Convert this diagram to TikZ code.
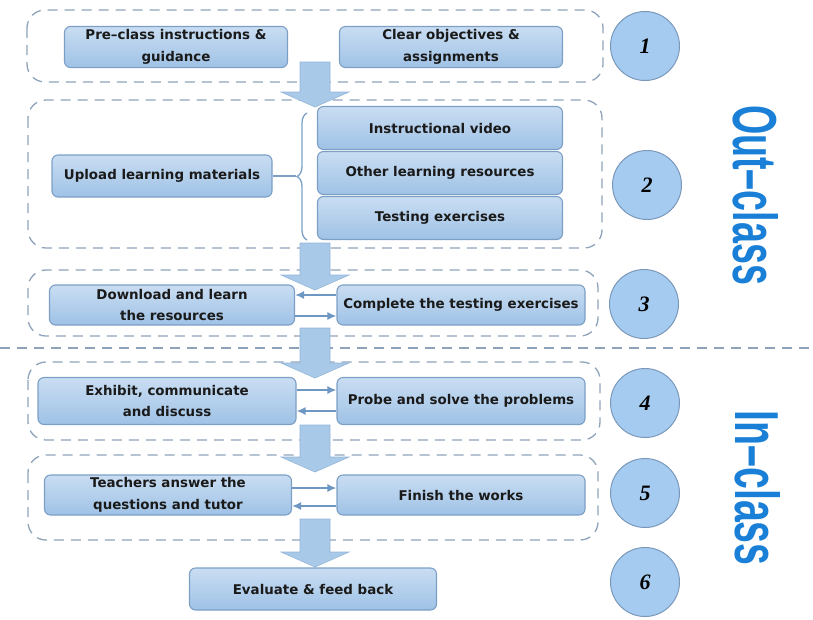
\documentclass[tikz,border=0pt]{standalone}
\usepackage{fontspec}
\setmainfont{DejaVu Sans}
\newfontfamily\numfont{Liberation Serif}
\newfontfamily\sidefont{Liberation Sans}
\usetikzlibrary{decorations.pathreplacing,arrows.meta}
\definecolor{boxborder}{HTML}{7C9FC6}
\definecolor{boxtop}{HTML}{C9DDF2}
\definecolor{boxbot}{HTML}{9FC2E6}
\definecolor{grpline}{HTML}{8EA3BA}
\definecolor{circfill}{HTML}{A6CBF0}
\definecolor{circborder}{HTML}{7A98BA}
\definecolor{bigarrow}{HTML}{A9C9E8}
\definecolor{bigarrowline}{HTML}{93B5D9}
\definecolor{smallarr}{HTML}{6F97C4}
\definecolor{sidetext}{HTML}{1A7FD6}
\definecolor{boxtext}{HTML}{1A1A1A}
\begin{document}
\begin{tikzpicture}[x=1pt,y=-1pt,
  stepbox/.style={draw=boxborder, line width=1.1pt, rounded corners=6pt,
    top color=boxtop, bottom color=boxbot, text=boxtext,
    font=\bfseries\fontsize{13.4}{21.5}\selectfont,
    align=center, inner sep=0pt},
  grpbox/.style={draw=grpline, line width=1.3pt, rounded corners=18pt,
    dash pattern=on 10pt off 7pt},
  numcirc/.style={circle, draw=circborder, fill=circfill, line width=1pt,
    minimum size=69pt, inner sep=0pt,
    font=\numfont\bfseries\itshape\fontsize{22}{22}\selectfont},
  smallarrow/.style={draw=smallarr, line width=1.5pt, -{Latex[length=9pt,width=8pt]}},
  sep/.style={draw=grpline, line width=1.3pt, dash pattern=on 10pt off 7pt},
  bigarr/.style={fill=bigarrow, draw=bigarrowline, line width=0.6pt}
]
\useasboundingbox (0,0) rectangle (813,619);

% group boxes
\draw[grpbox] (27,10) rectangle (603,82);
\draw[grpbox] (28,100) rectangle (602,248);
\draw[grpbox] (28,270) rectangle (598,336);
\draw[grpbox] (28,362) rectangle (600,440);
\draw[grpbox] (28,455) rectangle (598,540);
\draw[sep] (0,348) -- (813,348);

% block arrows
\foreach \t/\e in {62/107, 243/290, 328/378, 425/472, 519/567}{
  \draw[bigarr] (300,\t) -- (330,\t) -- (330,\e-15) -- (349,\e-15) -- (315,\e)
    -- (281,\e-15) -- (300,\e-15) -- cycle;
}

% nodes
\node[stepbox, minimum width=223pt, minimum height=41pt] (pre) at (176,47) {Pre–class instructions \&\\guidance};
\node[stepbox, minimum width=223pt, minimum height=41pt] (clear) at (451,47) {Clear objectives \&\\assignments};
\node[stepbox, minimum width=220pt, minimum height=42pt] (upload) at (162,176) {Upload learning materials};
\node[stepbox, minimum width=245pt, minimum height=43pt] (video) at (440,128) {Instructional video};
\node[stepbox, minimum width=245pt, minimum height=43pt] (other) at (440,173) {Other learning resources};
\node[stepbox, minimum width=245pt, minimum height=43pt] (testing) at (440,218) {Testing exercises};
\node[stepbox, minimum width=245pt, minimum height=40pt] (download) at (172,305) {Download and learn\\the resources};
\node[stepbox, minimum width=248pt, minimum height=40pt] (complete) at (461,305) {Complete the testing exercises};
\node[stepbox, minimum width=258pt, minimum height=47pt] (exhibit) at (167,401) {Exhibit, communicate\\and discuss};
\node[stepbox, minimum width=248pt, minimum height=47pt] (probe) at (461,401) {Probe and solve the problems};
\node[stepbox, minimum width=247pt, minimum height=40pt] (teachers) at (168,495) {Teachers answer the\\questions and tutor};
\node[stepbox, minimum width=248pt, minimum height=40pt] (finish) at (461,495) {Finish the works};
\node[stepbox, minimum width=247pt, minimum height=42pt] (evaluate) at (313,589) {Evaluate \& feed back};

% brace
\coordinate (bracetip) at (296,176);
\draw[draw=boxborder, line width=1.3pt, decorate, decoration={brace, amplitude=10pt}] (307,240) -- (307,113);
\draw[draw=boxborder, line width=1.3pt] (upload.east) -- (bracetip);

% small arrows
\draw[smallarrow] ([yshift=10pt]complete.west) -- ([yshift=10pt]download.east);
\draw[smallarrow] ([yshift=-11pt]download.east) -- ([yshift=-11pt]complete.west);
\draw[smallarrow] ([yshift=11pt]exhibit.east) -- ([yshift=11pt]probe.west);
\draw[smallarrow] ([yshift=-10pt]probe.west) -- ([yshift=-10pt]exhibit.east);
\draw[smallarrow] ([yshift=7pt]teachers.east) -- ([yshift=7pt]finish.west);
\draw[smallarrow] ([yshift=-11pt]finish.west) -- ([yshift=-11pt]teachers.east);

% circles
\node[numcirc] (c1) at (645,46) {1};
\node[numcirc] (c2) at (647,185) {2};
\node[numcirc] (c3) at (644,304) {3};
\node[numcirc] (c4) at (645,403) {4};
\node[numcirc] (c5) at (645,493) {5};
\node[numcirc] (c6) at (645,582) {6};

% side labels
\node[rotate=-90, text=sidetext, inner sep=0pt] (outclass) at (756,195) {\resizebox{180pt}{45pt}{\sidefont\bfseries\fontsize{60}{60}\selectfont Out–class}};
\node[rotate=-90, text=sidetext, inner sep=0pt] (inclass) at (758,488) {\resizebox{155pt}{45pt}{\sidefont\bfseries\fontsize{60}{60}\selectfont In–class}};
\end{tikzpicture}
\end{document}
